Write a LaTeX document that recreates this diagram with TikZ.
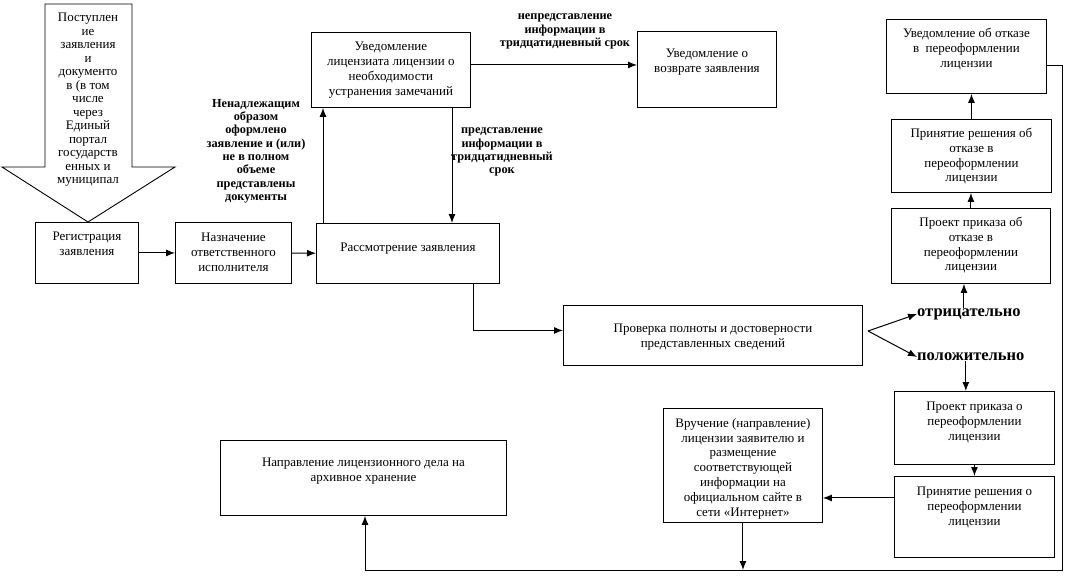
\documentclass[tikz,border=0pt]{standalone}
\usepackage{fontspec}
\setmainfont{Liberation Serif}
\usetikzlibrary{arrows.meta}

\begin{document}
\begin{tikzpicture}[x=1pt, y=-1pt,
    box/.style={draw, line width=0.9pt, anchor=north west, inner sep=0pt},
    txt/.style={anchor=north, inner sep=0pt, align=center, font=\fontsize{13}{14.8}\selectfont},
    note/.style={anchor=north, inner sep=0pt, align=center, font=\fontsize{12.3}{13.3}\selectfont\bfseries},
    verdict/.style={anchor=west, inner sep=0pt, font=\fontsize{16.5}{16.5}\selectfont\bfseries},
    arr/.style={-{Latex[length=9pt,width=7pt]}, line width=1pt}]
  \useasboundingbox (0,0) rectangle (1072,581);

  % incoming documents
  \draw[line width=0.9pt] (45,4) -- (132,4) -- (132,167) -- (175,167) -- (88,222)
    -- (2,167) -- (45,167) -- cycle;
  \node[txt, font=\fontsize{13}{13.5}\selectfont] (intake) at (88,13)
    {Поступлен\\ие\\заявления\\и\\документо\\в (в том\\числе\\через\\Единый\\портал\\государств\\енных и\\муниципал};

  \begin{scope}[every node/.style={box}]
    \node[minimum width=103pt, minimum height=61pt] (reg) at (35,222) {};
    \node[minimum width=116pt, minimum height=61pt] (assign) at (175,222) {};
    \node[minimum width=183pt, minimum height=60pt] (review) at (316,223) {};
    \node[minimum width=159pt, minimum height=75pt] (notice) at (311,32) {};
    \node[minimum width=139pt, minimum height=76pt] (back) at (637,31) {};
    \node[minimum width=299pt, minimum height=60pt] (check) at (563,305) {};
    \node[minimum width=160pt, minimum height=74pt] (refnote) at (886,19) {};
    \node[minimum width=160pt, minimum height=73pt] (refdec) at (891,119) {};
    \node[minimum width=159pt, minimum height=75pt] (refdraft) at (891,208) {};
    \node[minimum width=160pt, minimum height=73pt] (grdraft) at (894,391) {};
    \node[minimum width=160pt, minimum height=81pt] (grdec) at (894,476) {};
    \node[minimum width=159pt, minimum height=114pt] (deliver) at (663,408) {};
    \node[minimum width=286pt, minimum height=75pt] (archive) at (220,440) {};
  \end{scope}

  \begin{scope}[every node/.style={txt}]
    \node (regT) at ([yshift=-10pt]reg.north) {Регистрация\\заявления};
    \node (assignT) at ([yshift=-11pt]assign.north) {Назначение\\ответственного\\исполнителя};
    \node (reviewT) at ([yshift=-20pt]review.north) {Рассмотрение заявления};
    \node (noticeT) at ([yshift=-10pt]notice.north)
      {Уведомление\\лицензиата лицензии о\\необходимости\\устранения замечаний};
    \node (backT) at ([yshift=-18pt]back.north) {Уведомление о\\возврате заявления};
    \node (checkT) at ([yshift=-19pt]check.north)
      {Проверка полноты и достоверности\\представленных сведений};
    \node (refnoteT) at ([yshift=-9pt]refnote.north)
      {Уведомление об отказе\\в \ переоформлении\\лицензии};
    \node (refdecT) at ([yshift=-9pt]refdec.north)
      {Принятие решения об\\отказе в\\переоформлении\\лицензии};
    \node (refdraftT) at ([yshift=-9pt]refdraft.north)
      {Проект приказа об\\отказе в\\переоформлении\\лицензии};
    \node (grdraftT) at ([yshift=-11pt]grdraft.north)
      {Проект приказа о\\переоформлении\\лицензии};
    \node (grdecT) at ([yshift=-11pt]grdec.north)
      {Принятие решения о\\переоформлении\\лицензии};
    \node (deliverT) at ([yshift=-10pt]deliver.north)
      {Вручение (направление)\\лицензии заявителю и\\размещение\\соответствующей\\информации на\\официальном сайте в\\сети «Интернет»};
    \node (archiveT) at ([yshift=-18pt]archive.north)
      {Направление лицензионного дела на\\архивное хранение};
  \end{scope}

  % conditions
  \node[note] (improper) at (256,99)
    {Ненадлежащим\\образом\\оформлено\\заявление и (или)\\не в полном\\объеме\\представлены\\документы};
  \node[note] (intime) at (502,128)
    {представление\\информации в\\тридцатидневный\\срок};
  \node[note] (late) at (565,14)
    {непредставление\\информации в\\тридцатидневный срок};
  \node[verdict] (neg) at (917,314) {отрицательно};
  \node[verdict] (pos) at (917,357) {положительно};

  \coordinate (fork) at (868,331);
  \coordinate (busR) at (1062,570);

  \draw[arr] (reg) -- (assign);
  \draw[arr] (assign) -- (review);
  \draw[arr] ([xshift=7pt]review.north west) -- ([xshift=7pt]review.north west |- notice.south);
  \draw[arr] ([xshift=141pt]notice.south west) -- ([xshift=141pt]notice.south west |- review.north);
  \draw[arr] ([yshift=5pt]notice.east) -- ([yshift=5pt]notice.east -| back.west);
  \draw[arr] ([xshift=-26pt]review.south east) |- ([yshift=5pt]check.west);
  \draw[arr] (fork) -- (neg.west);
  \draw[arr] (fork) -- (pos.west);
  \draw[arr] ([xshift=-5pt]neg.north) -- ([xshift=-5pt]neg.north |- refdraft.south);
  \draw[arr] (refdraft) -- (refdraft |- refdec.south);
  \draw[arr] (refdec) -- (refdec |- refnote.south);
  \draw[arr] ([xshift=-5pt]pos.south) -- ([xshift=-5pt]pos.south |- grdraft.north);
  \draw[arr] (grdraft) -- (grdraft |- grdec.north);
  \draw[arr] ([yshift=19pt]grdec.west) -- ([yshift=19pt]grdec.west -| deliver.east);
  \draw[arr] (deliver) -- (deliver |- busR);
  \draw[arr] ([yshift=-9pt]refnote.east) -| (busR) -| ([xshift=145pt]archive.south west);
\end{tikzpicture}
\end{document}
